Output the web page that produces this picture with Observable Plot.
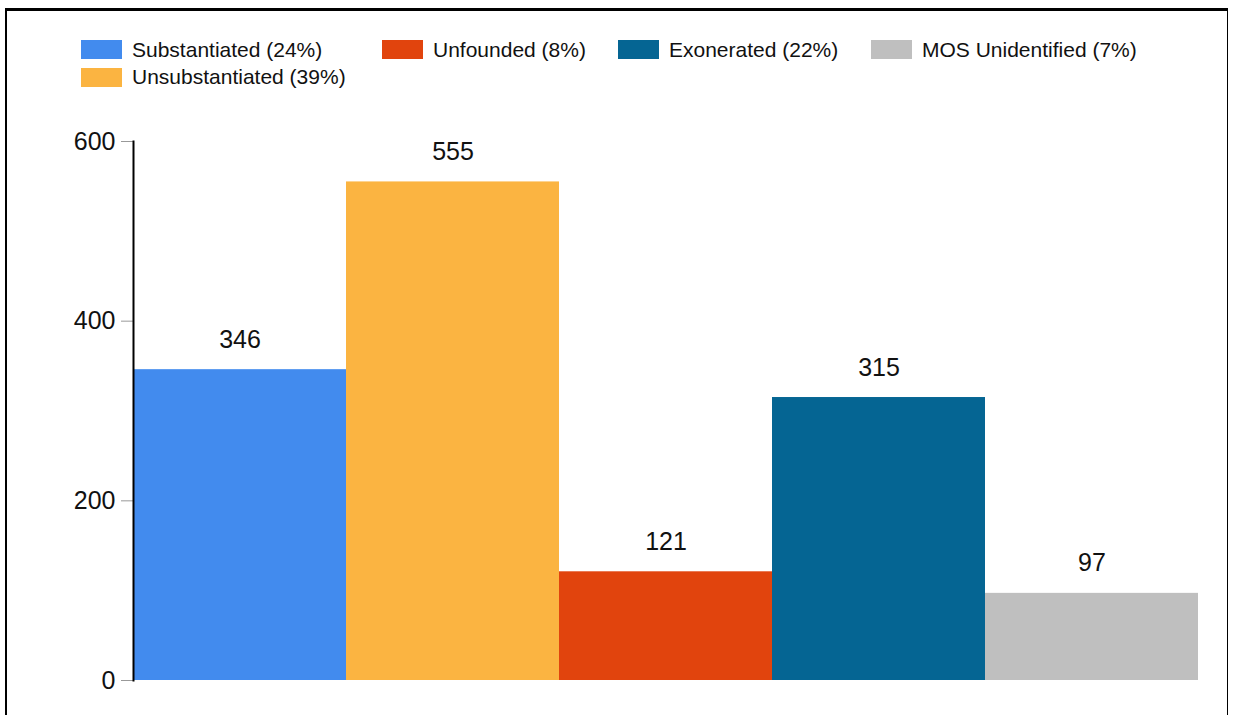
<!DOCTYPE html>
<html>
<head>
<meta charset="utf-8">
<script src="https://cdn.jsdelivr.net/npm/d3@7"></script>
<script src="https://cdn.jsdelivr.net/npm/@observablehq/plot@0.6"></script>
<style>
  html, body { margin: 0; padding: 0; background: #fff; overflow: hidden; width: 1233px; height: 715px; }
  body { font-family: "Liberation Sans", Arial, sans-serif; position: relative; }
  #frame { position: absolute; left: 5px; top: 8px; width: 1223px; height: 800px; box-sizing: border-box;
           border-left: 2px solid #000; border-top: 3px solid #000; border-right: 1.5px solid #000; }
  #legend { position: absolute; left: 81px; top: 40px; display: grid;
            grid-template-columns: 301px 236px 253px auto; grid-auto-rows: 19px; row-gap: 8.5px; }
  .item { display: flex; align-items: center; font-size: 21px; color: #111; white-space: nowrap; }
  .sw { width: 41px; height: 19px; margin-right: 10px; flex: none; }
  #chart { position: absolute; left: 0; top: 100px; }
</style>
</head>
<body>
<div id="frame"></div>
<div id="legend"></div>
<div id="chart"></div>
<script>
const categories = ["Substantiated", "Unsubstantiated", "Unfounded", "Exonerated", "MOS Unidentified"];
const values = [346, 555, 121, 315, 97];
const percents = ["24%", "39%", "8%", "22%", "7%"];
const colors = ["#428BEE", "#FBB441", "#E1440D", "#056593", "#BFBFBF"];
const yTicks = [0, 200, 400, 600];
// legend grid placement (row, column) as laid out in the reference
const legendPlace = [[1, 1], [2, 1], [1, 2], [1, 3], [1, 4]];

const data = categories.map((c, i) => ({category: c, value: values[i]}));

const legend = document.getElementById("legend");
categories.forEach((c, i) => {
  const it = document.createElement("div");
  it.className = "item";
  it.style.gridRow = legendPlace[i][0];
  it.style.gridColumn = legendPlace[i][1];
  const sw = document.createElement("span");
  sw.className = "sw";
  sw.style.background = colors[i];
  const tx = document.createElement("span");
  tx.textContent = `${c} (${percents[i]})`;
  it.appendChild(sw); it.appendChild(tx);
  legend.appendChild(it);
});

const chart = Plot.plot({
  width: 1233,
  height: 615,
  marginTop: 41,
  marginBottom: 35,
  marginLeft: 133,
  marginRight: 35,
  style: {fontFamily: "'Liberation Sans', Arial, sans-serif", background: "transparent"},
  x: {domain: categories, padding: 0, axis: null, round: false},
  y: {domain: [0, 600]},
  color: {domain: categories, range: colors},
  marks: [
    Plot.barY(data, {x: "category", y: "value", fill: "category"}),
    Plot.text(data, {x: "category", y: "value", text: d => String(d.value), dy: -30, lineAnchor: "middle", fontSize: 25, fill: "#111"}),
    Plot.axisY({ticks: yTicks, tickSize: 12, tickPadding: 6, stroke: "#999", fill: "#111", fontSize: 25, tickFormat: d => String(d), label: null}),
    Plot.frame({anchor: "left", stroke: "#000", strokeWidth: 2})
  ]
});
document.getElementById("chart").appendChild(chart);
</script>
</body>
</html>
